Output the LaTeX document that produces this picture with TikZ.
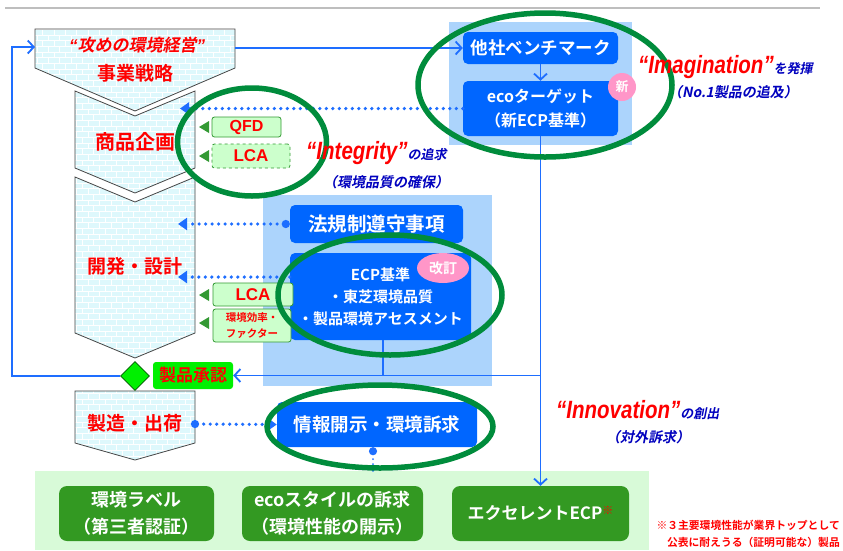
\documentclass[tikz,border=0pt]{standalone}
\usepackage{fontspec}
\setmainfont{Liberation Sans}
\newfontfamily\jp{Noto Sans CJK JP}[UprightFont=* Bold, BoldFont=* Bold, ItalicFont=* Bold, ItalicFeatures={FakeSlant=0.2}, BoldItalicFont=* Bold, BoldItalicFeatures={FakeSlant=0.2}]
\usetikzlibrary{arrows.meta,patterns,shapes.geometric,calc}
\definecolor{boxblue}{RGB}{0,102,255}
\definecolor{bgblue}{RGB}{172,212,252}
\definecolor{lineblue}{RGB}{30,110,255}
\definecolor{ringgreen}{RGB}{0,140,60}
\definecolor{lblgreen}{RGB}{204,255,204}
\definecolor{lblborder}{RGB}{51,153,51}
\definecolor{dkgreen}{RGB}{51,153,34}
\definecolor{bggreen}{RGB}{216,250,216}
\definecolor{chevfill}{RGB}{222,248,252}
\definecolor{chevline}{RGB}{70,70,70}
\definecolor{txtblue}{RGB}{0,0,190}
\definecolor{pinkc}{RGB}{255,150,200}
\definecolor{brightgreen}{RGB}{0,240,0}
\definecolor{topgray}{RGB}{190,190,190}
\newcommand{\jpf}[1]{\jp\fontsize{#1}{#1}\selectfont}
\tikzset{
  bluebox/.style={fill=boxblue, rounded corners=5pt, text=white, inner sep=0pt, align=center},
  lblbox/.style={fill=lblgreen, draw=lblborder, line width=0.8pt, rounded corners=2.5pt, text=red, inner sep=0pt, align=center},
  dkbox/.style={fill=dkgreen, rounded corners=8pt, text=white, inner sep=0pt, align=center, minimum height=55pt},
  chev/.style={preaction={fill=chevfill}, pattern=bricks, pattern color=white, draw=chevline, line width=0.8pt},
  flow/.style={draw=lineblue, line width=1.8pt, -{Straight Barb[length=6pt,width=13pt]}},
  bline/.style={draw=lineblue, line width=1.8pt},
  dotline/.style={draw=lineblue, line width=3.6pt, dash pattern=on 0pt off 6.5pt, line cap=round},
  ring/.style={ellipse, draw=ringgreen, line width=5.5pt, inner sep=0pt},
  gtri/.style={fill=lblborder},
  chevtxt/.style={text=red, inner sep=0pt, align=center},
  plain/.style={inner sep=0pt, anchor=west},
}
\begin{document}
\begin{tikzpicture}[x=1pt,y=-1pt]
\useasboundingbox (0,0) rectangle (843,550);
\fill[white] (0,0) rectangle (843,550);
% top rule
\draw[topgray, line width=2pt] (5,8) -- (820,8);
% backgrounds
\fill[bgblue] (449,22) rectangle (632,145);
\fill[bgblue] (263,195) rectangle (492,386);
\fill[bggreen] (35,471) rectangle (649,550);
% chevrons
\path[chev] (35,29) -- (235,29) -- (235,68) -- (135,111) -- (35,68) -- cycle;
\path[chev] (75,91) -- (135,116) -- (195,91) -- (195,168) -- (135,193) -- (75,168) -- cycle;
\path[chev] (75,177) -- (135,202) -- (195,177) -- (195,333) -- (135,358) -- (75,333) -- cycle;
\path[chev] (75,391) -- (195,391) -- (195,443) -- (135,460) -- (75,443) -- cycle;
\coordinate (c1w) at (35,47);
\coordinate (c1e) at (235,48);
\node[chevtxt] (t1a) at (137,45) {\bfseries\itshape\fontsize{17}{17}\selectfont “\jp\itshape 攻めの環境経営\rmfamily\bfseries\itshape ”};
\node[chevtxt] (t1b) at (135,73) {\jpf{19}事業戦略};
\node[chevtxt] (t2) at (135,142) {\jpf{20}商品企画};
\node[chevtxt] (t3) at (135,266) {\jpf{19}開発・設計};
\node[chevtxt] (t4) at (135,423) {\jpf{19}製造・出荷};
% blue boxes
\node[bluebox, minimum width=155pt, minimum height=32pt] (tasha) at (540.5,48) {\jpf{17.5}他社ベンチマーク};
\node[bluebox, minimum width=155pt, minimum height=55pt, font={\jp\fontsize{16}{24}\selectfont}] (eco) at (540.5,108.5) {ecoターゲット\\（新ECP基準）};
\node[bluebox, minimum width=173pt, minimum height=38pt] (houki) at (376.5,224) {\jpf{19.5}法規制遵守事項};
\node[bluebox, minimum width=181pt, minimum height=87pt, font={\jp\fontsize{15}{22}\selectfont}] (ecpk) at (380.5,296.5) {ECP基準\\・東芝環境品質\\・製品環境アセスメント};
\node[bluebox, minimum width=200pt, minimum height=45pt] (info) at (377,424.5) {\jpf{18.5}情報開示・環境訴求};
% label boxes
\node[lblbox, minimum width=69pt, minimum height=20pt] (qfd) at (246.5,127) {\bfseries\fontsize{16}{16}\selectfont QFD};
\node[lblbox, dashed, minimum width=78pt, minimum height=24pt] (lca1) at (251,156) {\bfseries\fontsize{17}{17}\selectfont LCA};
\node[lblbox, minimum width=80pt, minimum height=23pt] (lca2) at (253,294.5) {\bfseries\fontsize{17}{17}\selectfont LCA};
\node[lblbox, minimum width=78pt, minimum height=33pt, font={\jp\fontsize{10.5}{16}\selectfont}] (kouritsu) at (252,325.5) {環境効率・\\ファクター};
\foreach \yy in {127,156,295,323}{
  \fill[gtri] (199,\yy) -- (209,\yy-6) -- (209,\yy+6) -- cycle;
}
% approval
\node[diamond, fill=brightgreen, draw=green!35!black, line width=0.8pt, minimum width=29pt, minimum height=29pt, inner sep=0pt] (diam) at (135,376) {};
\node[fill=brightgreen, rounded corners=3pt, minimum width=80pt, minimum height=27pt, inner sep=0pt, text=red] (shounin) at (193,375.5) {\jpf{17}製品承認};
% bottom boxes
\node[dkbox, minimum width=155pt, font={\jp\fontsize{18}{27}\selectfont}] (label) at (136.5,513.5) {環境ラベル\\（第三者認証）};
\node[dkbox, minimum width=181pt, font={\jp\fontsize{18}{27}\selectfont}] (ecostyle) at (332.5,513.5) {ecoスタイルの訴求\\（環境性能の開示）};
\node[dkbox, minimum width=177pt] (excel) at (540.5,513.5) {\jpf{17}エクセレントECP\raisebox{5pt}{\textcolor{red}{\jpf{11}※}}};
% solid flow lines
\draw[flow] (diam.west) -- (12,376) -- (12,47) -- (c1w);
\draw[flow] (c1e) -- (tasha.west);
\draw[flow] (tasha.south) -- (eco.north);
\draw[flow] (eco.south) -- (excel.north);
\draw[flow] (eco.south |- shounin.east) -- (shounin.east);
\draw[bline] (ecpk.south -| 383,0) -- (383,375.5);
% dotted arrows
\coordinate (d1) at (180,108.5);
\coordinate (d2) at (178,224);
\coordinate (d3) at (178,277);
\coordinate (d4s) at (191,424);
\coordinate (d5e) at (373,472);
\draw[dotline, -{Triangle[length=9pt,width=12pt]}] (eco.west) -- (d1);
\draw[dotline, {Circle[length=8pt]}-{Triangle[length=9pt,width=12pt]}] (houki.west) -- (d2);
\draw[dotline, -{Triangle[length=9pt,width=12pt]}] (ecpk.west |- d3) -- (d3);
\draw[dotline, {Circle[length=8pt]}-{Triangle[length=9pt,width=12pt]}] (d4s) -- (info.west);
\draw[dotline, line width=2pt, dash pattern=on 0pt off 5pt, {Circle[length=8pt]}-{Triangle[length=4pt,width=6pt]}] (info.south -| d5e) -- (d5e);
% rings
\node[ring, minimum width=254pt, minimum height=144pt] (r1) at (545,85) {};
\node[ring, minimum width=149pt, minimum height=108pt] (r2) at (252,142) {};
\node[ring, minimum width=224pt, minimum height=120pt] (r3) at (390,295) {};
\node[ring, minimum width=226pt, minimum height=83pt] (r4) at (380,426.5) {};
% pink tags
\node[circle, fill=pinkc, minimum size=28pt, inner sep=0pt, text=white] (shin) at (622,87) {\jpf{13}新};
\node[ellipse, fill=pinkc, minimum width=52pt, minimum height=30pt, inner sep=0pt, text=white] (kaitei) at (443,268) {\jpf{14}改訂};
% slogans
\node[plain] (img) at (638,67) {\textcolor{red}{\scalebox{0.82}[1]{\bfseries\itshape\fontsize{25}{25}\selectfont “Imagination”}}\textcolor{txtblue}{\jp\itshape\fontsize{13}{13}\selectfont を発揮}};
\node[anchor=center, inner sep=0pt, text=txtblue] (img2) at (733,92) {\jp\itshape\fontsize{14}{14}\selectfont （No.1製品の追及）};
\node[plain] (integ) at (306,153) {\textcolor{red}{\scalebox{0.82}[1]{\bfseries\itshape\fontsize{25}{25}\selectfont “Integrity”}}\textcolor{txtblue}{\jp\itshape\fontsize{13}{13}\selectfont の追求}};
\node[anchor=center, inner sep=0pt, text=txtblue] (integ2) at (386,182) {\jp\itshape\fontsize{14}{14}\selectfont （環境品質の確保）};
\node[plain] (innov) at (556,410) {\textcolor{red}{\scalebox{0.82}[1]{\bfseries\itshape\fontsize{25}{25}\selectfont “Innovation”}}\textcolor{txtblue}{\jp\itshape\fontsize{13}{13}\selectfont の創出}};
\node[anchor=center, inner sep=0pt, text=txtblue] (innov2) at (648,437) {\jp\itshape\fontsize{14}{14}\selectfont （対外訴求）};
% footnote
\node[inner sep=0pt, anchor=east, text=red] (fn1) at (840,525) {\jpf{10.8}※３主要環境性能が業界トップとして};
\node[inner sep=0pt, anchor=east, text=red] (fn2) at (840,542) {\jpf{10.8}公表に耐えうる（証明可能な）製品};
\end{tikzpicture}
\end{document}
